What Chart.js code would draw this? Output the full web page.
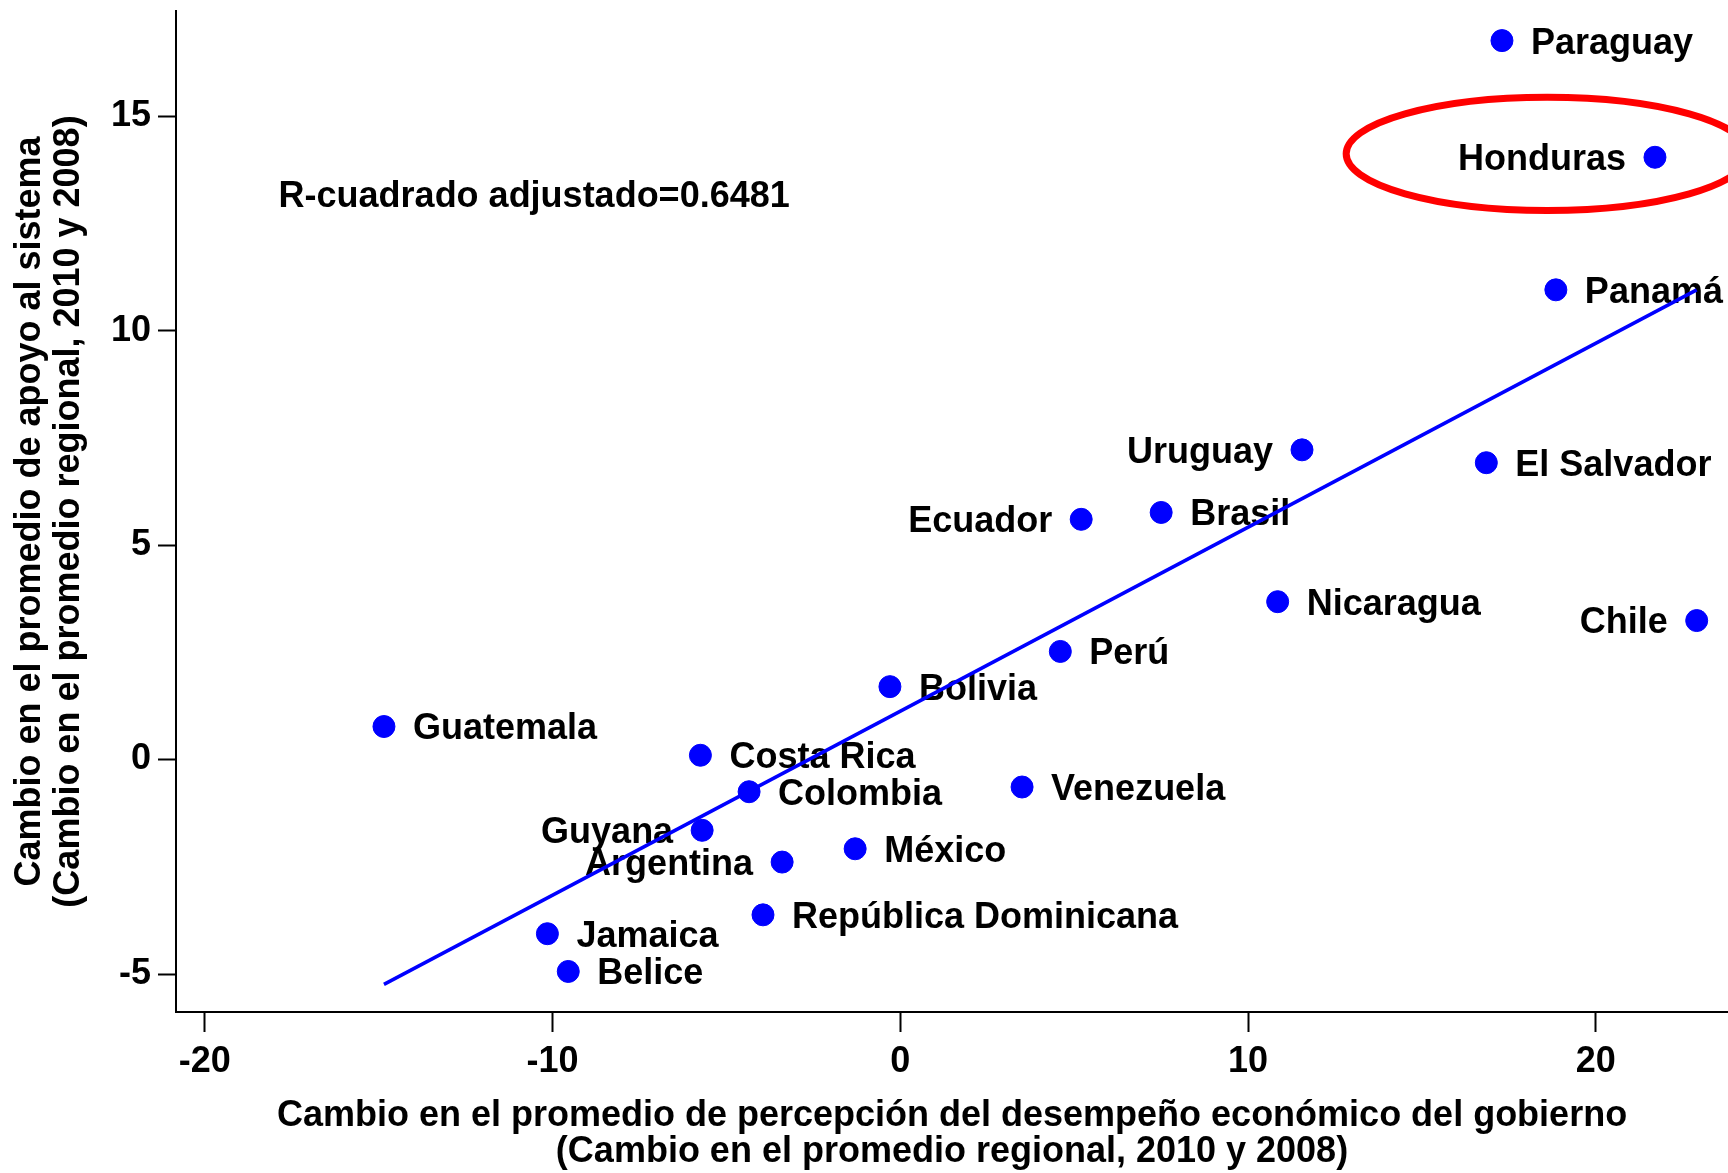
<!DOCTYPE html>
<html>
<head>
<meta charset="utf-8">
<script src="https://cdn.jsdelivr.net/npm/chart.js@4.4.1/dist/chart.umd.min.js"></script>
<style>
  html, body { margin: 0; padding: 0; background: #fff; overflow: hidden; }
  #wrap { width: 1728px; height: 1173px; position: relative; }
  canvas { display: block; }
</style>
</head>
<body>
<div id="wrap"><canvas id="chart__scatter"></canvas></div>
<script>
(() => {

  // Data
  const countries = [
    'Paraguay', 'Honduras', 'Panamá', 'Uruguay', 'El Salvador', 'Ecuador', 'Brasil',
    'Nicaragua', 'Chile', 'Perú', 'Bolivia', 'Guatemala', 'Costa Rica', 'Colombia',
    'Venezuela', 'Guyana', 'Argentina', 'México', 'República Dominicana', 'Jamaica', 'Belice'
  ];
  const desempeno = [
    17.3, 21.7, 18.85, 11.55, 16.85, 5.2, 7.5,
    10.85, 22.9, 4.6, -0.3, -14.85, -5.75, -4.35,
    3.5, -5.7, -3.4, -1.3, -3.95, -10.15, -9.55
  ];
  const apoyo = [
    16.76, 14.04, 10.95, 7.22, 6.92, 5.60, 5.76,
    3.68, 3.24, 2.52, 1.70, 0.77, 0.10, -0.75,
    -0.64, -1.65, -2.39, -2.08, -3.62, -4.06, -4.94
  ];
  // fitted line end points
  const fitX = [-14.85, 22.9];
  const fitY = [-5.24, 10.95];

  const xTicks = [-20, -10, 0, 10, 20];
  const yTicks = [-5, 0, 5, 10, 15];

  const rText = 'R-cuadrado adjustado=0.6481';

  // label side for each country (style)
  const labelSide = [
    'right', 'left', 'right', 'left', 'right', 'left', 'right',
    'right', 'left', 'right', 'right', 'right', 'right', 'right',
    'right', 'left', 'left', 'right', 'right', 'right', 'right'
  ];

  const FONT = "'Liberation Sans', Arial, sans-serif";
  const BLUE = '#0000ff';

  const ctx = document.querySelector('#chart__scatter');

  // country labels + R2 text, drawn under the marks
  const labelsPlugin = {
    id: 'labels',
    beforeDatasetsDraw(chart) {
      const c = chart.ctx;
      const meta = chart.getDatasetMeta(0);
      const x = chart.scales.x;
      const y = chart.scales.y;
      c.save();
      c.fillStyle = '#000';
      c.font = 'bold 36px ' + FONT;
      c.textBaseline = 'middle';
      meta.data.forEach((pt, i) => {
        if (labelSide[i] === 'left') {
          c.textAlign = 'right';
          c.fillText(countries[i], pt.x - 29, pt.y + 3);
        } else {
          c.textAlign = 'left';
          c.fillText(countries[i], pt.x + 29, pt.y + 3);
        }
      });
      c.textAlign = 'left';
      c.fillText(rText, x.getPixelForValue(-17.88), y.getPixelForValue(13.11));
      c.restore();
    },
    afterDatasetsDraw(chart) {
      // red ellipse around Honduras
      const c = chart.ctx;
      const x = chart.scales.x;
      const y = chart.scales.y;
      const cx = x.getPixelForValue(18.6);
      const cy = y.getPixelForValue(14.12);
      const rx = x.getPixelForValue(18.6 + 5.78) - cx;
      const ry = cy - y.getPixelForValue(14.12 + 1.32);
      c.save();
      c.strokeStyle = '#ff0000';
      c.lineWidth = 7;
      c.beginPath();
      c.ellipse(cx, cy, rx, ry, 0, 0, Math.PI * 2);
      c.stroke();
      c.restore();
    }
  };

  const chartScatter = new Chart(ctx, {
    type: 'scatter',
    data: {
      datasets: [{
        label: 'Países',
        data: desempeno.map((v, i) => ({ x: v, y: apoyo[i] })),
        backgroundColor: BLUE,
        borderColor: BLUE,
        pointRadius: 11,
        pointHoverRadius: 11
      },
      {
        type: 'line',
        label: 'Ajuste',
        data: fitX.map((v, i) => ({ x: v, y: fitY[i] })),
        borderColor: BLUE,
        borderWidth: 3.5,
        pointRadius: 0,
        fill: false
      }]
    },
    options: {
      responsive: true,
      maintainAspectRatio: false,
      animation: false,
      layout: {
        autoPadding: false,
        padding: { top: 11, right: 0, left: 0, bottom: 0 }
      },
      plugins: {
        legend: { display: false },
        tooltip: { enabled: false }
      },
      scales: {
        x: {
          type: 'linear',
          min: -20.83,
          max: 23.8,
          afterBuildTicks: (scale) => { scale.ticks = xTicks.map(v => ({ value: v })); },
          afterFit: (scale) => {
            scale.height = 161;
            scale.paddingLeft = 0;
            scale.paddingRight = 0;
          },
          border: { color: '#000', width: 2 },
          grid: { drawOnChartArea: false, drawTicks: true, tickLength: 20, tickWidth: 2, tickColor: '#000' },
          ticks: {
            color: '#000',
            padding: 8,
            maxRotation: 0,
            font: { family: FONT, size: 36, weight: 'bold' }
          },
          title: {
            display: true,
            text: [
              'Cambio en el promedio de percepción del desempeño económico del gobierno',
              '(Cambio en el promedio regional, 2010 y 2008)'
            ],
            color: '#000',
            padding: { top: 0, bottom: 3 },
            font: { family: FONT, size: 36, weight: 'bold', lineHeight: 1.0 }
          }
        },
        y: {
          type: 'linear',
          min: -5.885,
          max: 17.45,
          afterBuildTicks: (scale) => { scale.ticks = yTicks.map(v => ({ value: v })); },
          afterFit: (scale) => {
            scale.width = 176;
            scale.paddingTop = 0;
            scale.paddingBottom = 0;
          },
          border: { color: '#000', width: 2 },
          grid: { drawOnChartArea: false, drawTicks: true, tickLength: 18, tickWidth: 2, tickColor: '#000' },
          ticks: {
            color: '#000',
            padding: 7,
            font: { family: FONT, size: 36, weight: 'bold' }
          },
          title: {
            display: true,
            text: [
              'Cambio en el promedio de apoyo al sistema',
              '(Cambio en el promedio regional, 2010 y 2008)'
            ],
            color: '#000',
            padding: { top: 11, bottom: 0 },
            font: { family: FONT, size: 36, weight: 'bold', lineHeight: 1.07 }
          }
        }
      }
    },
    plugins: [labelsPlugin]
  });

})();
</script>
</body>
</html>
